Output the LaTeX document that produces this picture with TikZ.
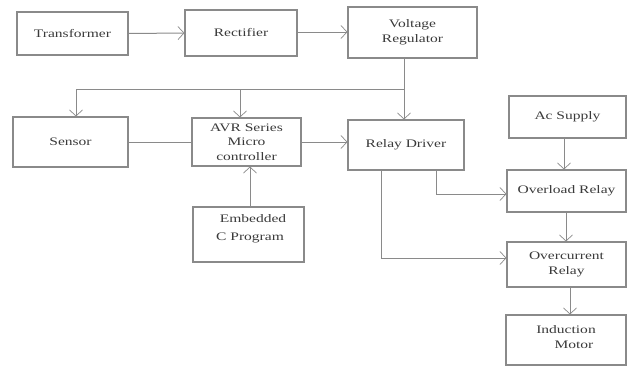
\documentclass[tikz,border=0pt]{standalone}
\usepackage{fontspec}
\setmainfont{Liberation Serif}[FakeStretch=1.35]
\usetikzlibrary{arrows.meta}
\definecolor{lc}{HTML}{8A8A8A}
\definecolor{tc}{HTML}{3A3A3A}
\tikzset{
  box/.style={draw=lc, line width=1.1pt, inner sep=0pt, text=tc, align=center,
    font=\fontsize{11.5}{14.5}\selectfont},
  txt/.style={inner sep=0pt, text=tc, align=center, font=\fontsize{11.5}{18}\selectfont},
  conn/.style={draw=lc, line width=1pt},
  arr/.style={conn, -{Straight Barb[length=6pt,width=13pt,line width=0.7pt]}}
}
\begin{document}
\begin{tikzpicture}[x=1pt,y=-1pt]
\useasboundingbox (0,0) rectangle (629,367);
\node[box, minimum width=111, minimum height=43] (tr) at (72.5,33.5) {Transformer};
\node[box, minimum width=112, minimum height=46] (rect) at (241,33) {Rectifier};
\node[box, minimum width=129, minimum height=51] (vr) at (412.5,32.5) {Voltage\\Regulator};
\node[box, minimum width=115, minimum height=50] (sen) at (70.5,142) {Sensor};
\node[box, minimum width=109, minimum height=48] (avr) at (246.5,142) {AVR Series\\Micro\\controller};
\node[box, minimum width=116, minimum height=50] (rd) at (406,145) {Relay Driver};
\node[box, minimum width=111, minimum height=55] (emb) at (248.5,234.5) {};
\node[txt] (embt) at (250,229) {\hspace*{6pt}Embedded\\C Program};
\node[box, minimum width=117, minimum height=42] (ac) at (567.5,117) {Ac Supply};
\node[box, minimum width=119, minimum height=42] (ol) at (566.5,191) {Overload Relay};
\node[box, minimum width=119, minimum height=45] (oc) at (566.5,264.5) {Overcurrent\\Relay};
\node[box, minimum width=120, minimum height=50] (im) at (566,340) {\raisebox{6pt}{Induction}\\\hspace*{16pt}\raisebox{6pt}{Motor}};
\coordinate (j1) at (404,89);
\coordinate (j2) at (76,89);
\coordinate (j3) at (240,89);
\draw[arr] (tr.east) -- (rect.west);
\draw[arr] (rect.east |- 0,32) -- (vr.west |- 0,32);
\draw[conn] (vr.south -| j1) -- (j1);
\draw[arr] (j1) -- (rd.north -| j1);
\draw[conn] (j1) -- (j2);
\draw[arr] (j2) -- (sen.north -| j2);
\draw[arr] (j3) -- (avr.north -| j3);
\draw[conn] (sen.east) -- (avr.west);
\draw[arr] (avr.east) -- (rd.west |- avr.east);
\draw[arr] (emb.north -| 250,0) -- (avr.south -| 250,0);
\draw[arr] (ac.south -| 564,0) -- (ol.north -| 564,0);
\draw[arr] (rd.south -| 436,0) |- (ol.west |- 0,194);
\draw[arr] (rd.south -| 381,0) |- (oc.west |- 0,258);
\draw[arr] (ol.south -| 566,0) -- (oc.north -| 566,0);
\draw[arr] (oc.south -| 570,0) -- (im.north -| 570,0);
\end{tikzpicture}
\end{document}
